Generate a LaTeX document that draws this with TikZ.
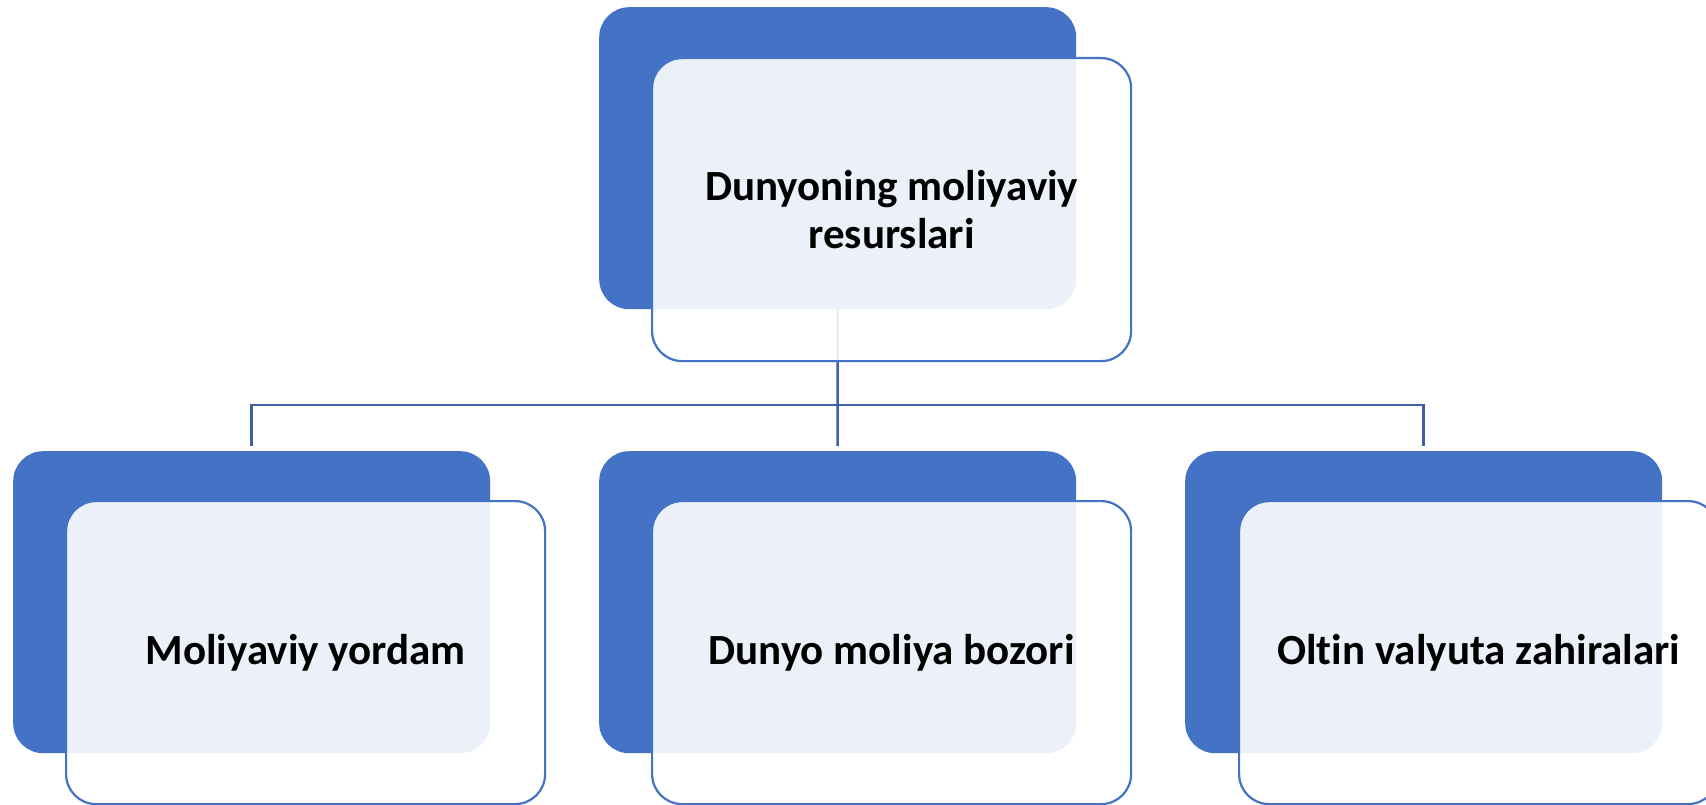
\documentclass[tikz,border=0pt]{standalone}
\usepackage{fontspec}
\setmainfont{Carlito}[Ligatures={NoCommon}]
\definecolor{accent}{HTML}{4472C4}
\definecolor{connc}{HTML}{3F62A6}
\begin{document}
\begin{tikzpicture}[x=1pt,y=-1pt,
  backbox/.style={fill=accent, rounded corners=30pt, anchor=north west, inner sep=0pt,
    minimum width=477pt, minimum height=302pt},
  frontbox/.style={fill=white, fill opacity=0.9, text opacity=1, draw=accent, line width=2.2pt,
    rounded corners=30pt, anchor=north west, inner sep=0pt, minimum width=479pt, minimum height=303pt,
    align=center, font=\fontsize{43}{48}\selectfont\bfseries},
  conn/.style={draw=connc, line width=2.5pt}]
\fill[white] (0,0) rectangle (1706,805);
\useasboundingbox (0,0) rectangle (1706,805);
% back boxes
\node[backbox] (tb) at (599,7) {};
\node[backbox] (b1) at (13,451) {};
\node[backbox] (b2) at (599,451) {};
\node[backbox] (b3) at (1185,451) {};
% connectors
\coordinate (j) at (837.5,405);
\draw[conn] (tb.south) -- (j);
\draw[conn, shorten >=5pt] (j) -| (b1.north);
\draw[conn, shorten >=5pt] (j) -| (b3.north);
\draw[conn, shorten >=5pt] (j) -- (b2.north);
% front boxes
\node[frontbox] (tf) at (651,57) {Dunyoning moliyaviy\\resurslari};
\node[frontbox] (f1) at (65,500) {Moliyaviy yordam};
\node[frontbox] (f2) at (651,500) {Dunyo moliya bozori};
\node[frontbox] (f3) at (1238,500) {Oltin valyuta zahiralari};
\end{tikzpicture}
\end{document}
